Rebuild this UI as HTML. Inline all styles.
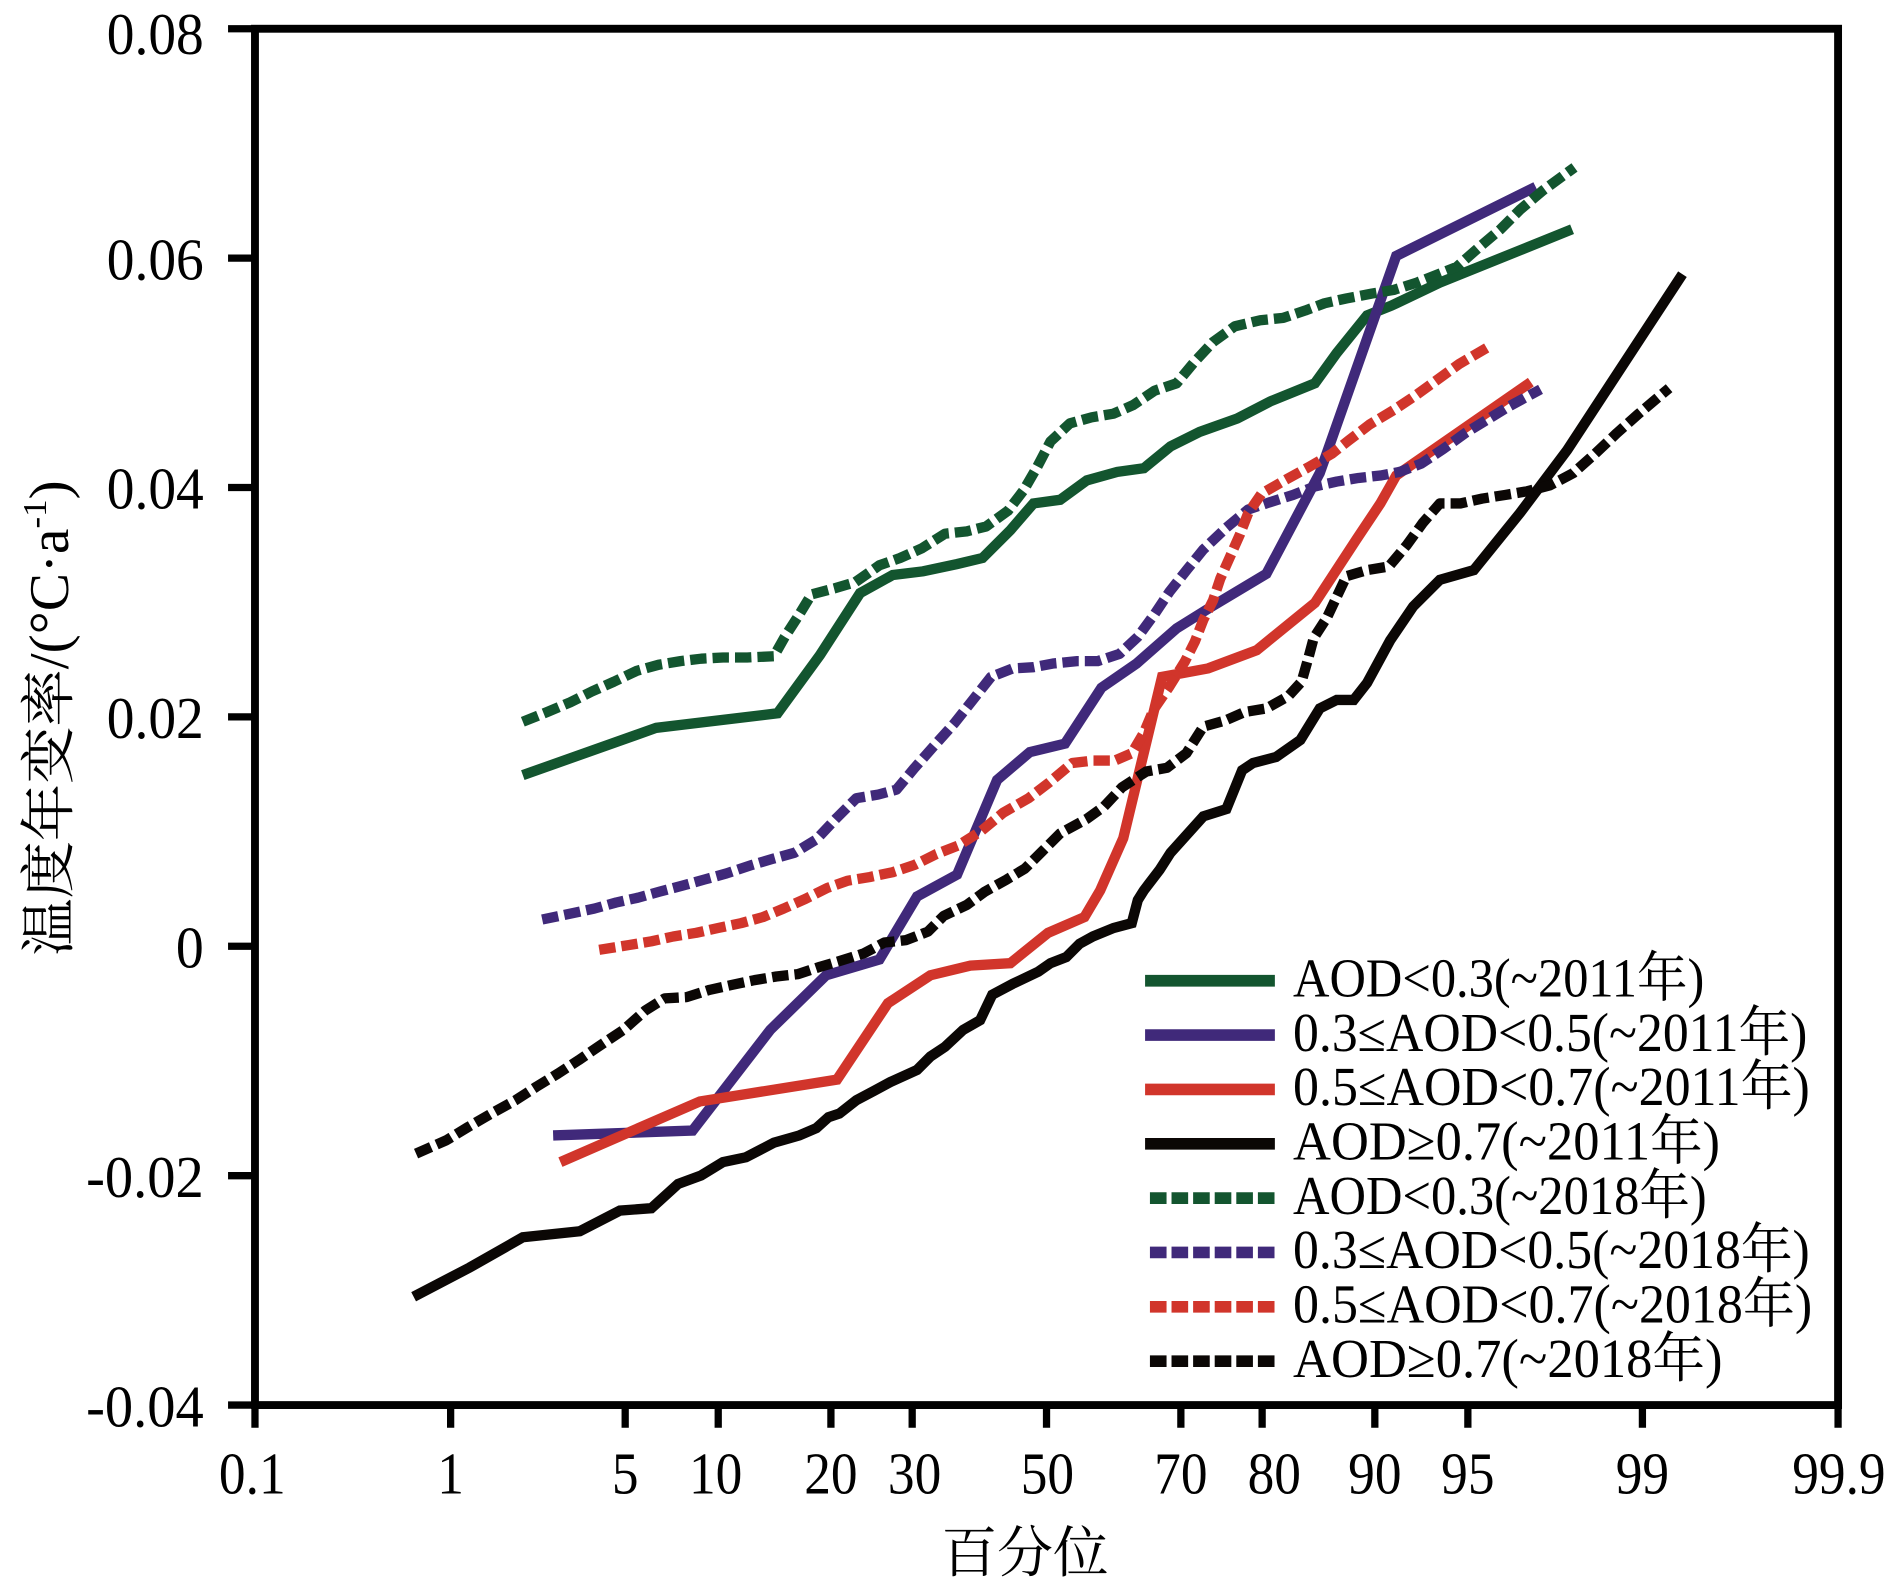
<!DOCTYPE html>
<html>
<head>
<meta charset="utf-8">
<style>
  html, body { margin: 0; padding: 0; background: #ffffff; }
  svg { display: block; }
  .lat { font-family: "Liberation Serif", "Noto Serif CJK SC", serif; fill: #000; }
  .cjk { font-family: "Noto Serif CJK SC", "Liberation Serif", serif; fill: #000; }
</style>
</head>
<body>
<svg xmlns="http://www.w3.org/2000/svg" width="1902" height="1588" viewBox="0 0 1568 1309.1" preserveAspectRatio="none">
  <rect x="0" y="0" width="1568" height="1309.1" fill="#ffffff"/>

  <!-- Axis box -->
  <rect x="210.2" y="23.7" width="1305.1" height="1134.6" fill="none" stroke="#000" stroke-width="6.5"/>

  <!-- Y ticks -->
  <g stroke="#000" stroke-width="6">
    <line x1="188" y1="23.7" x2="210" y2="23.7"/>
    <line x1="188" y1="212.8" x2="210" y2="212.8"/>
    <line x1="188" y1="401.9" x2="210" y2="401.9"/>
    <line x1="188" y1="591.0" x2="210" y2="591.0"/>
    <line x1="188" y1="780.1" x2="210" y2="780.1"/>
    <line x1="188" y1="969.2" x2="210" y2="969.2"/>
    <line x1="188" y1="1158.3" x2="210" y2="1158.3"/>
  </g>
  <!-- X ticks -->
  <g stroke="#000" stroke-width="6">
    <line x1="210.2" y1="1158" x2="210.2" y2="1177"/>
    <line x1="371.5" y1="1158" x2="371.5" y2="1177"/>
    <line x1="515.4" y1="1158" x2="515.4" y2="1177"/>
    <line x1="592.1" y1="1158" x2="592.1" y2="1177"/>
    <line x1="685.0" y1="1158" x2="685.0" y2="1177"/>
    <line x1="752.0" y1="1158" x2="752.0" y2="1177"/>
    <line x1="862.75" y1="1158" x2="862.75" y2="1177"/>
    <line x1="973.5" y1="1158" x2="973.5" y2="1177"/>
    <line x1="1040.5" y1="1158" x2="1040.5" y2="1177"/>
    <line x1="1133.4" y1="1158" x2="1133.4" y2="1177"/>
    <line x1="1210.1" y1="1158" x2="1210.1" y2="1177"/>
    <line x1="1354.0" y1="1158" x2="1354.0" y2="1177"/>
    <line x1="1515.3" y1="1158" x2="1515.3" y2="1177"/>
  </g>

  <!-- Y tick labels -->
  <g class="lat" font-size="48.5" text-anchor="end">
    <text x="168" y="44.5" textLength="80" lengthAdjust="spacingAndGlyphs">0.08</text>
    <text x="168" y="230.3" textLength="80" lengthAdjust="spacingAndGlyphs">0.06</text>
    <text x="168" y="419.4" textLength="80" lengthAdjust="spacingAndGlyphs">0.04</text>
    <text x="168" y="608.5" textLength="80" lengthAdjust="spacingAndGlyphs">0.02</text>
    <text x="168" y="797.6" textLength="23" lengthAdjust="spacingAndGlyphs">0</text>
    <text x="168" y="986.7" textLength="97" lengthAdjust="spacingAndGlyphs">-0.02</text>
    <text x="168" y="1175.8" textLength="97" lengthAdjust="spacingAndGlyphs">-0.04</text>
  </g>

  <!-- X tick labels -->
  <g class="lat" font-size="48.5" text-anchor="middle">
    <text x="208" y="1231" textLength="55" lengthAdjust="spacingAndGlyphs">0.1</text>
    <text x="371.5" y="1231" textLength="22" lengthAdjust="spacingAndGlyphs">1</text>
    <text x="515.4" y="1231" textLength="22" lengthAdjust="spacingAndGlyphs">5</text>
    <text x="590" y="1231" textLength="44" lengthAdjust="spacingAndGlyphs">10</text>
    <text x="685.0" y="1231" textLength="44" lengthAdjust="spacingAndGlyphs">20</text>
    <text x="754.0" y="1231" textLength="44" lengthAdjust="spacingAndGlyphs">30</text>
    <text x="863.5" y="1231" textLength="44" lengthAdjust="spacingAndGlyphs">50</text>
    <text x="973.5" y="1231" textLength="44" lengthAdjust="spacingAndGlyphs">70</text>
    <text x="1050.5" y="1231" textLength="44" lengthAdjust="spacingAndGlyphs">80</text>
    <text x="1133.4" y="1231" textLength="44" lengthAdjust="spacingAndGlyphs">90</text>
    <text x="1210.1" y="1231" textLength="44" lengthAdjust="spacingAndGlyphs">95</text>
    <text x="1354.0" y="1231" textLength="44" lengthAdjust="spacingAndGlyphs">99</text>
    <text x="1516" y="1231" textLength="77" lengthAdjust="spacingAndGlyphs">99.9</text>
  </g>

  <!-- Axis titles -->
  <text class="cjk" x="845" y="1296" font-size="46" text-anchor="middle">百分位</text>
  <g transform="translate(56,592) rotate(-90)">
    <text x="0" y="0" text-anchor="middle" font-size="46" textLength="392" lengthAdjust="spacingAndGlyphs"><tspan class="cjk">温度年变率</tspan><tspan class="lat">/(°C·a</tspan><tspan class="lat" font-size="28" dy="-18">-1</tspan><tspan class="lat" dy="18">)</tspan></text>
  </g>

  <!-- Data: solid lines -->
  <g fill="none" stroke-width="8.5" stroke-linejoin="miter" stroke-linecap="butt">
    <polyline stroke="#13552f" points="431,639 541,600 641,588 676,540 709,489 736,474 761,471 789,465 810,460 833,437 852,415 874,412 896,396 921,389 943,386 965,368 989,356 1020,345 1047,331 1084,316 1102,291 1127,260 1147,252 1187,233 1296,189"/>
    <polyline stroke="#40297a" points="456,936 571,932 635,849 681,804 725,791 756,739 789,721 822,643 849,620 878,613 908,567 937,547 970,518 999,500 1044,473 1088,390 1151,211 1266,154"/>
    <polyline stroke="#d1352b" points="462,958 577,908 690,890 732,827 767,804 800,796 833,794 864,769 894,756 907,734 926,691 958,558 996,551 1036,536 1084,497 1118,445 1138,415 1151,392 1262,315"/>
    <polyline stroke="#0b0705" points="341,1069 387,1045 431,1020 478,1015 511,998 537,996 559,976 578,969 596,958 615,954 638,942 659,936 673,930 683,921 692,918 706,907 721,899 734,892 756,882 767,871 779,863 794,849 808,841 818,820 835,811 856,801 866,794 879,789 890,778 901,772 918,765 933,761 938,742 943,734 956,717 965,703 992,673 1011,667 1024,635 1033,629 1052,624 1072,610 1088,584 1102,577 1116,577 1127,563 1146,528 1165,500 1187,478 1215,470 1253,423 1292,371 1387,226"/>
  </g>

  <!-- Data: dotted lines -->
  <g fill="none" stroke-width="8.5" stroke-dasharray="13.5 5" stroke-linejoin="round" stroke-linecap="butt">
    <polyline stroke="#13552f" points="431,595 451,587 470,579 488,570 506,562 525,553 543,548 561,545 578,543 596,542 616,542 638,541 647,525 658,508 669,490 688,485 705,480 725,466 742,460 760,452 779,440 797,438 813,434 831,421 844,404 855,385 866,364 882,349 900,344 918,341 934,334 952,322 970,316 985,298 1000,282 1018,269 1039,264 1058,262 1076,256 1092,250 1110,246 1131,242 1149,239 1168,233 1201,220 1218,205 1237,189 1253,173 1272,157 1298,138"/>
    <polyline stroke="#40297a" points="447,758 471,753 490,749 508,744 526,740 544,735 563,730 581,725 599,720 620,713 637,708 655,703 673,692 690,674 706,658 724,655 739,651 754,633 769,616 787,596 802,577 817,558 835,551 852,550 868,547 888,545 905,545 923,539 938,525 952,506 964,488 979,469 992,453 1011,435 1029,420 1047,414 1066,408 1084,401 1102,397 1120,394 1138,392 1154,389 1172,382 1190,370 1208,357 1226,346 1244,335 1270,321"/>
    <polyline stroke="#d1352b" points="494,783 519,779 537,776 555,772 574,769 592,765 611,761 629,756 646,749 664,741 682,732 699,726 717,723 736,719 754,713 772,704 790,697 809,685 827,670 848,658 865,645 884,629 901,627 919,627 933,621 943,604 951,585 964,566 977,545 985,529 992,511 1000,495 1006,477 1014,459 1022,441 1029,423 1040,407 1059,396 1079,385 1098,374 1112,363 1129,350 1149,338 1167,326 1185,313 1203,300 1227,286"/>
    <polyline stroke="#0b0705" points="343,951 368,940 386,929 405,918 425,907 442,896 460,885 477,874 493,863 514,849 532,833 548,823 566,822 585,816 603,812 622,808 640,805 658,803 676,797 693,792 712,786 729,777 747,775 765,768 778,755 797,746 812,735 830,725 845,716 859,702 874,687 896,675 910,665 925,649 945,636 962,633 978,621 992,599 1010,594 1026,587 1044,584 1062,574 1073,562 1079,541 1083,526 1094,509 1102,492 1110,475 1127,470 1145,467 1160,449 1173,431 1187,415 1204,415 1222,411 1241,408 1259,405 1278,400 1297,390 1315,374 1333,357 1351,341 1376,320"/>
  </g>

  <!-- Legend lines -->
  <g fill="none" stroke-width="9.6" stroke-linecap="butt">
    <line x1="944" y1="808.5" x2="1051" y2="808.5" stroke="#13552f"/>
    <line x1="944" y1="853.3" x2="1051" y2="853.3" stroke="#40297a"/>
    <line x1="944" y1="898.1" x2="1051" y2="898.1" stroke="#d1352b"/>
    <line x1="944" y1="942.9" x2="1051" y2="942.9" stroke="#0b0705"/>
  </g>
  <g fill="none" stroke-width="9.6" stroke-linecap="butt" stroke-dasharray="13.7 4.1">
    <line x1="948" y1="987.7" x2="1051" y2="987.7" stroke="#13552f"/>
    <line x1="948" y1="1032.5" x2="1051" y2="1032.5" stroke="#40297a"/>
    <line x1="948" y1="1077.3" x2="1051" y2="1077.3" stroke="#d1352b"/>
    <line x1="948" y1="1122.1" x2="1051" y2="1122.1" stroke="#0b0705"/>
  </g>

  <!-- Legend text -->
  <g class="lat" font-size="45">
    <text x="1066" y="821.5" textLength="339" lengthAdjust="spacingAndGlyphs">AOD&lt;0.3(~2011年)</text>
    <text x="1066" y="866.3" textLength="424" lengthAdjust="spacingAndGlyphs">0.3≤AOD&lt;0.5(~2011年)</text>
    <text x="1066" y="911.1" textLength="426" lengthAdjust="spacingAndGlyphs">0.5≤AOD&lt;0.7(~2011年)</text>
    <text x="1066" y="955.9" textLength="352" lengthAdjust="spacingAndGlyphs">AOD≥0.7(~2011年)</text>
    <text x="1066" y="1000.7" textLength="341" lengthAdjust="spacingAndGlyphs">AOD&lt;0.3(~2018年)</text>
    <text x="1066" y="1045.5" textLength="426" lengthAdjust="spacingAndGlyphs">0.3≤AOD&lt;0.5(~2018年)</text>
    <text x="1066" y="1090.3" textLength="428" lengthAdjust="spacingAndGlyphs">0.5≤AOD&lt;0.7(~2018年)</text>
    <text x="1066" y="1135.1" textLength="354" lengthAdjust="spacingAndGlyphs">AOD≥0.7(~2018年)</text>
  </g>
</svg>
</body>
</html>
